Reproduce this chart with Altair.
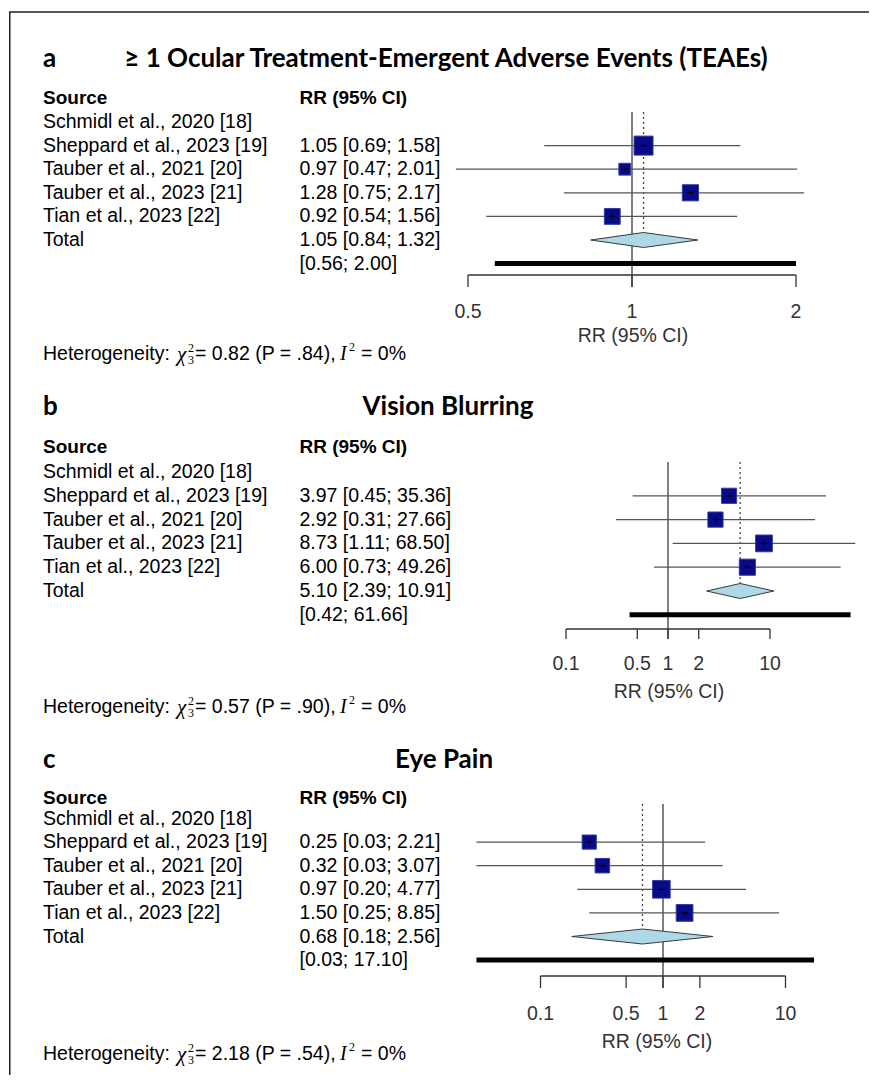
import math
import altair as alt
import pandas as pd

# ---------------- data ----------------
STUDIES = ["Schmidl et al., 2020 [18]", "Sheppard et al., 2023 [19]",
           "Tauber et al., 2021 [20]", "Tauber et al., 2023 [21]",
           "Tian et al., 2023 [22]"]

A_LETTER = "a"
A_TITLE = "≥ 1 Ocular Treatment-Emergent Adverse Events (TEAEs)"
A_RR = [None, 1.05, 0.97, 1.28, 0.92]
A_LO = [None, 0.69, 0.47, 0.75, 0.54]
A_HI = [None, 1.58, 2.01, 2.17, 1.56]
A_WEIGHT = [0, 36, 14, 26, 25]
A_TOTAL = [1.05, 0.84, 1.32]
A_PRED = [0.56, 2.00]
A_HET = ["0.82", ".84", "0%"]
A_TICKS = [0.5, 1, 2]

B_LETTER = "b"
B_TITLE = "Vision Blurring"
B_RR = [None, 3.97, 2.92, 8.73, 6.00]
B_LO = [None, 0.45, 0.31, 1.11, 0.73]
B_HI = [None, 35.36, 27.66, 68.50, 49.26]
B_WEIGHT = [0, 23, 23, 28, 26]
B_TOTAL = [5.10, 2.39, 10.91]
B_PRED = [0.42, 61.66]
B_HET = ["0.57", ".90", "0%"]
B_TICKS = [0.1, 0.5, 1, 2, 10]

C_LETTER = "c"
C_TITLE = "Eye Pain"
C_RR = [None, 0.25, 0.32, 0.97, 1.50]
C_LO = [None, 0.03, 0.03, 0.20, 0.25]
C_HI = [None, 2.21, 3.07, 4.77, 8.85]
C_WEIGHT = [0, 20, 21, 31, 28]
C_TOTAL = [0.68, 0.18, 2.56]
C_PRED = [0.03, 17.10]
C_HET = ["2.18", ".54", "0%"]
C_TICKS = [0.1, 0.5, 1, 2, 10]

# ---------------- layout / style ----------------
W = 860
SRC_X = 34
RR_X = 290.5
BODY_FONT = "Liberation Sans"
TITLE_FONT = "Lato"
TITLE_FS = 26
FS = 19.5
DIAMOND_HALF = 7.5
SQUARE_FILL = "#0a0a88"
SQUARE_STROKE = "#2f3fa0"
CI_COLOR = "#555555"

LAYOUT_A = dict(height=367, frame_top=2, letter_y=49, title_x=437, title_y=49,
                header_y=88, row0=112, row_sp=23.6, x_one=623, ppd=544.8,
                clip=(0.475, 2.07), vtop=102, axis_y=265, tick_len=12,
                tick_lab_y=302, axis_title_x=624, axis_title_y=326, het_y=344,
                box=19)
LAYOUT_B = dict(height=353, frame_top=None, letter_y=30, title_x=439, title_y=30,
                header_y=70, row0=95, row_sp=23.8, x_one=659, ppd=102,
                clip=(0.01, 1000), vtop=85, axis_y=252, tick_len=10,
                tick_lab_y=287, axis_title_x=660, axis_title_y=315, het_y=330,
                box=20)
LAYOUT_C = dict(height=345, frame_top=None, letter_y=30, title_x=435, title_y=30,
                header_y=68, row0=88.5, row_sp=23.6, x_one=654, ppd=122.5,
                clip=(0.01, 1000), vtop=74, axis_y=246, tick_len=12,
                tick_lab_y=284, axis_title_x=648, axis_title_y=312, het_y=324,
                box=20)


def fmt_ci(e, l, h):
    return f"{e:.2f} [{l:.2f}; {h:.2f}]"


def panel(letter, title, rr, lo, hi, wt, total, pred, het, ticks, L):
    xs = alt.Scale(type="log", domain=list(L["clip"]),
                   range=[L["x_one"] + L["ppd"] * math.log10(c) for c in L["clip"]],
                   nice=False, clamp=True)
    ys = alt.Scale(domain=[0, 6], range=[L["row0"], L["row0"] + 6 * L["row_sp"]],
                   nice=False, zero=False)
    X = lambda f: alt.X(f, type="quantitative", scale=xs, axis=None)
    Y = lambda f: alt.Y(f, type="quantitative", scale=ys, axis=None)
    one = pd.DataFrame({"k": [0]})
    layers = []

    # white cover along the right edge of the panel
    layers.append(alt.Chart(one).mark_rule(color="white", strokeWidth=4).encode(
        x=alt.value(W - 1), x2=alt.value(W - 1), y=alt.value(0), y2=alt.value(L["height"])))

    # frame (top and left edge of the figure box)
    layers.append(alt.Chart(one).mark_rule(color="#222", strokeWidth=1.5).encode(
        x=alt.value(0.75), x2=alt.value(0.75),
        y=alt.value(L["frame_top"] or 0), y2=alt.value(L["height"])))
    if L["frame_top"] is not None:
        layers.append(alt.Chart(one).mark_rule(color="#222", strokeWidth=1.5).encode(
            x=alt.value(0), x2=alt.value(W),
            y=alt.value(L["frame_top"]), y2=alt.value(L["frame_top"])))

    # titles
    layers.append(alt.Chart(pd.DataFrame({"t": [letter]})).mark_text(
        font=TITLE_FONT, fontSize=TITLE_FS, fontWeight="bold", align="left", color="black").encode(
        x=alt.value(SRC_X), y=alt.value(L["letter_y"]), text="t:N"))
    layers.append(alt.Chart(pd.DataFrame({"t": [title]})).mark_text(
        font=TITLE_FONT, fontSize=TITLE_FS, fontWeight="bold", align="center", color="black").encode(
        x=alt.value(L["title_x"]), y=alt.value(L["title_y"]), text="t:N"))

    # column headers
    for t, xpos in (("Source", SRC_X), ("RR (95% CI)", RR_X)):
        layers.append(alt.Chart(pd.DataFrame({"t": [t]})).mark_text(
            font=BODY_FONT, fontSize=19, fontWeight="bold", align="left", color="black").encode(
            x=alt.value(xpos), y=alt.value(L["header_y"]), text="t:N"))

    # left text columns
    src_df = pd.DataFrame({"row": list(range(len(STUDIES))) + [5],
                           "t": STUDIES + ["Total"]})
    rr_rows, rr_txt = [], []
    for i, (e, l, h) in enumerate(zip(rr, lo, hi)):
        if e is not None:
            rr_rows.append(i)
            rr_txt.append(fmt_ci(e, l, h))
    rr_rows += [5, 6]
    rr_txt += [fmt_ci(*total), f"[{pred[0]:.2f}; {pred[1]:.2f}]"]
    rr_df = pd.DataFrame({"row": rr_rows, "t": rr_txt})
    for df, xpos in ((src_df, SRC_X), (rr_df, RR_X)):
        layers.append(alt.Chart(df).mark_text(
            font=BODY_FONT, fontSize=FS, align="left", color="black").encode(
            x=alt.value(xpos), y=Y("row"), text="t:N"))

    # reference line at 1
    layers.append(alt.Chart(pd.DataFrame({"v": [1]})).mark_rule(color="black", strokeWidth=1).encode(
        x=X("v"), y=alt.value(L["vtop"]), y2=alt.value(L["axis_y"] + L["tick_len"])))
    # dotted pooled estimate line
    layers.append(alt.Chart(pd.DataFrame({"v": [total[0]]})).mark_rule(
        color="#444", strokeWidth=1.3, strokeDash=[2, 3]).encode(
        x=X("v"), y=alt.value(L["vtop"]),
        y2=alt.value(L["row0"] + 5 * L["row_sp"] - DIAMOND_HALF)))

    # studies
    est = pd.DataFrame({"row": list(range(len(STUDIES))), "rr": rr, "lo": lo, "hi": hi, "w": wt})
    est = est.dropna(subset=["rr"])
    layers.append(alt.Chart(est).mark_rule(color=CI_COLOR, strokeWidth=1.2).encode(
        x=X("lo"), x2="hi", y=Y("row")))
    layers.append(alt.Chart(est).mark_square(
        fill=SQUARE_FILL, stroke=SQUARE_STROKE, strokeWidth=1, opacity=1, filled=True).encode(
        x=X("rr"), y=Y("row"),
        size=alt.Size("w:Q", scale=alt.Scale(domain=[0, max(wt)], range=[0, L["box"] ** 2]),
                      legend=None)))
    layers.append(alt.Chart(est).mark_point(
        shape="M-1,0H1M0,-0.6V0.6", filled=False, color="black", strokeWidth=1, size=49,
        opacity=1).encode(x=X("rr"), y=Y("row")))

    # pooled diamond
    hh = DIAMOND_HALF / L["row_sp"]
    dia = pd.DataFrame({"x": [total[1], total[0], total[2]],
                        "y": [5, 5 - hh, 5], "y2": [5, 5 + hh, 5]})
    layers.append(alt.Chart(dia).mark_area(
        fill="#add8e6", stroke="#3a3a3a", strokeWidth=1, opacity=1, fillOpacity=1).encode(
        x=X("x"), y=Y("y"), y2="y2"))

    # prediction interval
    layers.append(alt.Chart(pd.DataFrame({"row": [6], "lo": [pred[0]], "hi": [pred[1]]})).mark_rule(
        color="black", strokeWidth=5, strokeCap="butt").encode(x=X("lo"), x2="hi", y=Y("row")))

    # hand-drawn axis
    layers.append(alt.Chart(pd.DataFrame({"lo": [min(ticks)], "hi": [max(ticks)]})).mark_rule(
        color="#333", strokeWidth=1.3).encode(x=X("lo"), x2="hi", y=alt.value(L["axis_y"])))
    tdf = pd.DataFrame({"v": ticks, "lab": [f"{t:g}" for t in ticks]})
    layers.append(alt.Chart(tdf).mark_rule(color="#333", strokeWidth=1.3).encode(
        x=X("v"), y=alt.value(L["axis_y"]), y2=alt.value(L["axis_y"] + L["tick_len"])))
    layers.append(alt.Chart(tdf).mark_text(font=BODY_FONT, fontSize=FS, color="#333").encode(
        x=X("v"), y=alt.value(L["tick_lab_y"]), text="lab:N"))
    layers.append(alt.Chart(pd.DataFrame({"t": ["RR (95% CI)"]})).mark_text(
        font=BODY_FONT, fontSize=FS, color="#333").encode(
        x=alt.value(L["axis_title_x"]), y=alt.value(L["axis_title_y"]), text="t:N"))

    # heterogeneity line
    hy = L["het_y"]
    segs = [
        ("Heterogeneity:", 34, 0, BODY_FONT, FS, "normal"),
        ("χ", 168, 1, "Liberation Serif", 21, "italic"),
        ("2", 179, -6, "Liberation Serif", 12, "normal"),
        ("3", 179, 6, "Liberation Serif", 12, "normal"),
        (f"= {het[0]} (P = {het[1]}),", 186, 0, BODY_FONT, FS, "normal"),
        ("I", 331, 0, "Liberation Serif", 20, "italic"),
        ("2", 340, -7, "Liberation Serif", 12, "normal"),
        (f"= {het[2]}", 352, 0, BODY_FONT, FS, "normal"),
    ]
    for t, x, dy, font, size, style in segs:
        layers.append(alt.Chart(pd.DataFrame({"t": [t]})).mark_text(
            font=font, fontSize=size, fontStyle=style, align="left", color="black").encode(
            x=alt.value(x), y=alt.value(hy + dy), text="t:N"))

    return alt.layer(*layers).properties(width=W, height=L["height"])


pa = panel(A_LETTER, A_TITLE, A_RR, A_LO, A_HI, A_WEIGHT, A_TOTAL, A_PRED, A_HET, A_TICKS, LAYOUT_A)
pb = panel(B_LETTER, B_TITLE, B_RR, B_LO, B_HI, B_WEIGHT, B_TOTAL, B_PRED, B_HET, B_TICKS, LAYOUT_B)
pc = panel(C_LETTER, C_TITLE, C_RR, C_LO, C_HI, C_WEIGHT, C_TOTAL, C_PRED, C_HET, C_TICKS, LAYOUT_C)

chart = (alt.vconcat(pa, pb, pc, spacing=0, bounds="flush")
         .properties(padding=0, background="white")
         .configure_view(stroke=None, strokeWidth=0))
chart.save("out.html", embed_options={"renderer": "svg", "actions": False})
